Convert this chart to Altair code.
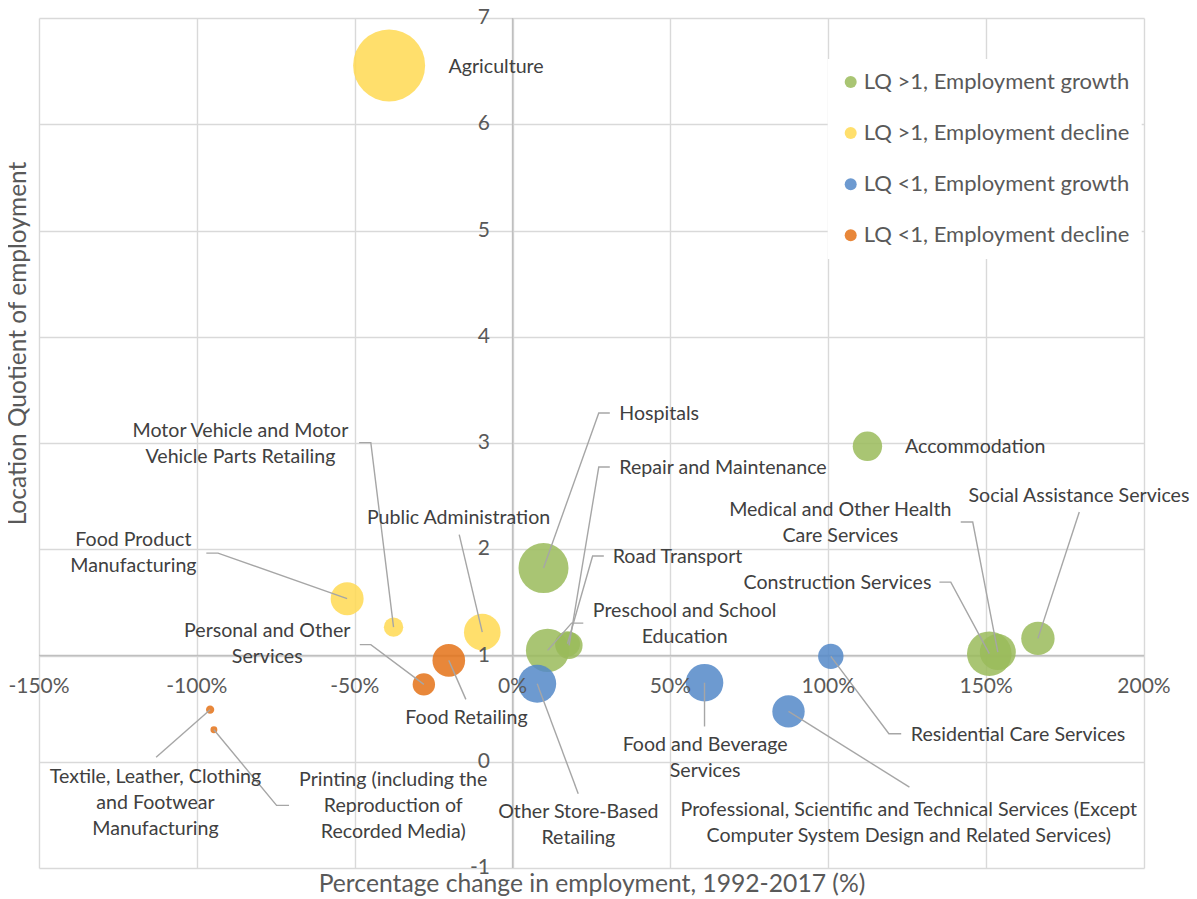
import altair as alt
import pandas as pd

# ---------------- data ----------------
industries = [
    "Agriculture",
    "Motor Vehicle and Motor Vehicle Parts Retailing",
    "Food Product Manufacturing",
    "Public Administration",
    "Food Retailing",
    "Personal and Other Services",
    "Textile, Leather, Clothing and Footwear Manufacturing",
    "Printing (including the Reproduction of Recorded Media)",
    "Hospitals",
    "Preschool and School Education",
    "Repair and Maintenance",
    "Road Transport",
    "Other Store-Based Retailing",
    "Food and Beverage Services",
    "Residential Care Services",
    "Accommodation",
    "Professional, Scientific and Technical Services (Except Computer System Design and Related Services)",
    "Construction Services",
    "Medical and Other Health Care Services",
    "Social Assistance Services",
]
pct_change = [-39.1, -37.7, -52.4, -9.6, -20.2, -28.1, -95.8, -94.6, 9.8, 11.1,
              17.9, 17.4, 7.8, 60.8, 100.8, 112.4, 87.4, 151.0, 153.7, 166.4]
location_quotient = [6.554, 1.267, 1.535, 1.220, 0.954, 0.728, 0.490, 0.301, 1.823, 1.048,
                     1.095, 1.110, 0.734, 0.744, 0.992, 2.969, 0.474, 1.017, 1.032, 1.161]
employment_size = [1296, 94, 272, 335, 266, 125, 17, 12, 625, 471,
                   182, 156, 361, 353, 161, 216, 262, 497, 324, 279]

group_names = ["LQ >1, Employment growth", "LQ >1, Employment decline",
               "LQ <1, Employment growth", "LQ <1, Employment decline"]
group_colors = ["#9ABB5B", "#FFD952", "#5488C8", "#E47217"]

x_ticks = [-150, -100, -50, 0, 50, 100, 150, 200]
x_tick_labels = ["-150%", "-100%", "-50%", "0%", "50%", "100%", "150%", "200%"]
y_ticks = [-1, 0, 1, 2, 3, 4, 5, 6, 7]
y_tick_labels = ["-1", "0", "1", "2", "3", "4", "5", "6", "7"]

# data-label annotations (same order as industries); y is the first line's centre
label_texts = [
    "Agriculture",
    "Motor Vehicle and Motor\nVehicle Parts Retailing",
    "Food Product\nManufacturing",
    "Public Administration",
    "Food Retailing",
    "Personal and Other\nServices",
    "Textile, Leather, Clothing\nand Footwear\nManufacturing",
    "Printing (including the\nReproduction of\nRecorded Media)",
    "Hospitals",
    "Preschool and School\nEducation",
    "Repair and Maintenance",
    "Road Transport",
    "Other Store-Based\nRetailing",
    "Food and Beverage\nServices",
    "Residential Care Services",
    "Accommodation",
    "Professional, Scientific and Technical Services (Except\nComputer System Design and Related Services)",
    "Construction Services",
    "Medical and Other Health\nCare Services",
    "Social Assistance Services",
]
label_x = [-20.3, -86.2, -120.1, -17.1, -14.6, -77.7, -113.1, -37.8, 33.8, 54.5,
           33.8, 31.7, 20.85, 61.0, 160.1, 124.3, 125.5, 102.9, 103.8, 179.4]
label_y = [6.54, 3.113, 2.084, 2.298, 0.414, 1.227, -0.144, -0.169, 3.277, 1.415,
           2.765, 1.927, -0.475, 0.153, 0.248, 2.962, -0.452, 1.682, 2.373, 2.501]
label_align = ["left", "center", "center", "center", "center", "center", "center", "center",
               "left", "center", "left", "left", "center", "center", "center", "left",
               "center", "center", "center", "center"]

# leader-line vertices from the label side (the bubble centre is appended from the data)
leader_x = {
    "Motor Vehicle and Motor Vehicle Parts Retailing": [-48.6, -44.9],
    "Food Product Manufacturing": [-97.0, -93.3],
    "Public Administration": [-16.9],
    "Food Retailing": [-14.8],
    "Personal and Other Services": [-48.4, -44.9],
    "Textile, Leather, Clothing and Footwear Manufacturing": [-112.9],
    "Printing (including the Reproduction of Recorded Media)": [-70.8, -74.75],
    "Hospitals": [30.8, 27.3],
    "Preschool and School Education": [22.4, 18.7],
    "Repair and Maintenance": [30.8, 27.3],
    "Road Transport": [28.9, 25.35],
    "Other Store-Based Retailing": [20.8],
    "Food and Beverage Services": [60.8],
    "Residential Care Services": [123.1, 119.2],
    "Professional, Scientific and Technical Services (Except Computer System Design and Related Services)": [125.7],
    "Construction Services": [135.2, 138.8],
    "Medical and Other Health Care Services": [141.95, 145.75],
    "Social Assistance Services": [179.5],
}
leader_y = {
    "Motor Vehicle and Motor Vehicle Parts Retailing": [3.004, 3.004],
    "Food Product Manufacturing": [1.964, 1.964],
    "Public Administration": [2.137],
    "Food Retailing": [0.587],
    "Personal and Other Services": [1.102, 1.102],
    "Textile, Leather, Clothing and Footwear Manufacturing": [0.043],
    "Printing (including the Reproduction of Recorded Media)": [-0.411, -0.411],
    "Hospitals": [3.283, 3.283],
    "Preschool and School Education": [1.305, 1.305],
    "Repair and Maintenance": [2.774, 2.774],
    "Road Transport": [1.936, 1.936],
    "Other Store-Based Retailing": [-0.301],
    "Food and Beverage Services": [0.332],
    "Residential Care Services": [0.264, 0.264],
    "Professional, Scientific and Technical Services (Except Computer System Design and Related Services)": [-0.239],
    "Construction Services": [1.691, 1.691],
    "Medical and Other Health Care Services": [2.256, 2.256],
    "Social Assistance Services": [2.350],
}

# ---------------- tables ----------------
def group_of(x, y):
    if y > 1:
        return group_names[0] if x > 0 else group_names[1]
    return group_names[2] if x > 0 else group_names[3]

points_df = pd.DataFrame({
    "name": industries,
    "x": pct_change,
    "y": location_quotient,
    "emp": employment_size,
    "group": [group_of(a, b) for a, b in zip(pct_change, location_quotient)],
})

labels_df = pd.DataFrame({
    "name": industries, "text": label_texts,
    "x": label_x, "y": label_y, "align": label_align,
})

rows = []
for name, px, py in zip(industries, pct_change, location_quotient):
    if name not in leader_x:
        continue
    xs = leader_x[name] + [px]
    ys = leader_y[name] + [py]
    for i, (a, b) in enumerate(zip(xs, ys)):
        rows.append({"name": name, "seq": i, "x": a, "y": b})
leaders_df = pd.DataFrame(rows)

xt_df = pd.DataFrame({"x": x_ticks, "label": x_tick_labels})
yt_df = pd.DataFrame({"y": y_ticks, "label": y_tick_labels})

# ---------------- encodings ----------------
GRID = "#D9D9D9"
TXT = "#595959"
x_scale = alt.Scale(domain=[-150, 200], nice=False, zero=False)
y_scale = alt.Scale(domain=[-1, 7], nice=False, zero=False)

x_axis = alt.Axis(values=x_ticks, grid=True, gridColor=GRID, gridWidth=1.4,
                  labels=False, ticks=False, domain=False,
                  title="Percentage change in employment, 1992-2017 (%)",
                  titleFontSize=24.7, titleFontWeight="normal", titleColor=TXT,
                  titleY=16.5, titleBaseline="middle")
y_axis = alt.Axis(values=y_ticks, grid=True, gridColor=GRID, gridWidth=1.4,
                  labels=False, ticks=False, domain=False,
                  title="Location Quotient of employment",
                  titleFontSize=24.5, titleFontWeight="normal", titleColor=TXT,
                  titleAngle=270, titleX=-21, titleY=325,
                  titleAlign="center", titleBaseline="middle")

X = alt.X("x:Q", scale=x_scale, axis=x_axis)
Y = alt.Y("y:Q", scale=y_scale, axis=y_axis)

legend = alt.Legend(title=None, orient="none", legendX=788.7, legendY=41,
                    fillColor="white", padding=12, symbolType="circle",
                    symbolSize=144, symbolOpacity=0.85, symbolStrokeWidth=0,
                    labelFontSize=22, labelColor=TXT, labelOffset=2,
                    rowPadding=29.1, labelLimit=400)

points = alt.Chart(points_df).mark_circle(opacity=0.85).encode(
    x=X, y=Y,
    size=alt.Size("emp:Q", scale=alt.Scale(domain=[0, 1296], range=[0, 5184]), legend=None),
    color=alt.Color("group:N", scale=alt.Scale(domain=group_names, range=group_colors),
                    legend=legend),
    order=alt.Order("emp:Q", sort="descending"),
)

hline = alt.Chart(pd.DataFrame({"y": [1]})).mark_rule(color="#BFBFBF", strokeWidth=1.5).encode(y=Y)
vline = alt.Chart(pd.DataFrame({"x": [0]})).mark_rule(color="#BFBFBF", strokeWidth=1.5).encode(x=X)

leaders = alt.Chart(leaders_df).mark_line(color="#A6A6A6", strokeWidth=1.4).encode(
    x=X, y=Y, detail="name:N", order="seq:Q")

x_labels = alt.Chart(xt_df).mark_text(dy=31, fontSize=21, color=TXT, baseline="middle").encode(
    x=X, y=alt.datum(1), text="label:N")
y_labels = alt.Chart(yt_df).mark_text(dx=-22.7, fontSize=21, color=TXT, align="right",
                                      baseline="middle").encode(
    x=alt.datum(0), y=Y, text="label:N")

lab_left = alt.Chart(labels_df).transform_filter(alt.datum.align == "left").mark_text(
    align="left", baseline="middle", lineBreak="\n", lineHeight=26, fontSize=19.6,
    color="#404040").encode(x=X, y=Y, text="text:N")
lab_center = alt.Chart(labels_df).transform_filter(alt.datum.align == "center").mark_text(
    align="center", baseline="middle", lineBreak="\n", lineHeight=26, fontSize=19.6,
    color="#404040").encode(x=X, y=Y, text="text:N")

chart = alt.layer(hline, vline, points, leaders, x_labels, y_labels, lab_left, lab_center).properties(
    width=1105, height=850,
    autosize=alt.AutoSizeParams(type="none"),
    padding={"left": 31, "top": 10, "right": 45, "bottom": 31},
).configure(font="Lato").configure_view(strokeWidth=0)

chart.save("out.html", embed_options={"renderer": "svg", "actions": False})
